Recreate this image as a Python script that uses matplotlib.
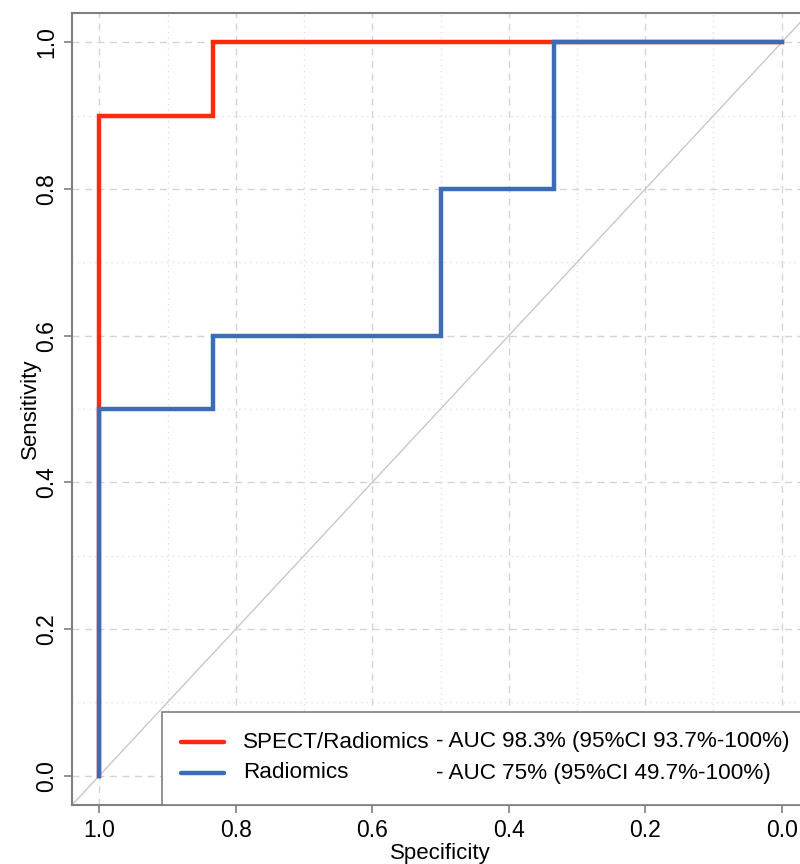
import matplotlib
matplotlib.use("Agg")
import matplotlib.pyplot as plt
from matplotlib.patches import Rectangle
from matplotlib.ticker import MultipleLocator

plt.rcParams['font.family'] = ['Liberation Sans', 'DejaVu Sans']

# ROC data (specificity, sensitivity)
spect_spec = [1.0, 1.0, 0.8333, 0.8333, 0.0]
spect_sens = [0.0, 0.9, 0.9, 1.0, 1.0]
rad_spec = [1.0, 1.0, 0.8333, 0.8333, 0.5, 0.5, 0.3333, 0.3333, 0.0]
rad_sens = [0.0, 0.5, 0.5, 0.6, 0.6, 0.8, 0.8, 1.0, 1.0]

names = ["SPECT/Radiomics", "Radiomics"]
auc_texts = ["- AUC 98.3% (95%CI 93.7%-100%)", "- AUC 75% (95%CI 49.7%-100%)"]
colors = ["#FF2A0E", "#3C6DB4"]
ticks = [0.0, 0.2, 0.4, 0.6, 0.8, 1.0]
tick_labels = ["0.0", "0.2", "0.4", "0.6", "0.8", "1.0"]

fig = plt.figure(figsize=(8, 8.64), dpi=100)
ax = fig.add_axes([72/800, 1-805/864, 737/800, 792/864])
ax.set_xlim(1.04, -0.04)
ax.set_ylim(-0.04, 1.04)

# grid
ax.set_xticks(ticks)
ax.set_yticks(ticks)
ax.xaxis.set_minor_locator(MultipleLocator(0.1))
ax.yaxis.set_minor_locator(MultipleLocator(0.1))
ax.grid(which='major', color='#d4d4d4', linestyle=(0, (5, 4)), linewidth=1.0)
ax.grid(which='minor', color='#e0e0e0', linestyle=(0, (1, 3)), linewidth=1.0)
ax.set_axisbelow(True)

# diagonal
ax.plot([1.1, -0.1], [-0.1, 1.1], color='#c8c8c8', linewidth=1.0, zorder=1)

ax.plot(spect_spec, spect_sens, color=colors[0], linewidth=3.2, zorder=3, solid_joinstyle='miter')
ax.plot(rad_spec, rad_sens, color=colors[1], linewidth=3.2, zorder=4, solid_joinstyle='miter')

ax.set_xticklabels(tick_labels, fontsize=16.5)
ax.set_yticklabels(tick_labels, fontsize=16.5, rotation=90, va='center')
ax.tick_params(which='major', direction='out', length=6, width=1.2, color='#7f7f7f', pad=4)
ax.tick_params(which='minor', length=0)
for s in ax.spines.values():
    s.set_color('#7f7f7f')
    s.set_linewidth(1.5)

ax.set_xlabel("Specificity", fontsize=16, labelpad=1)
ax.set_ylabel("Sensitivity", fontsize=16, labelpad=-4)

# legend box
lx0 = (162-72)/737
ly1 = (805-712)/792
ax.add_patch(Rectangle((lx0, 0), 1.2, ly1, transform=ax.transAxes, facecolor='white',
                       edgecolor='#7f7f7f', linewidth=1.2, zorder=5, clip_on=False))
ys = [(805-742)/792, (805-773)/792]
for i in range(2):
    ax.plot([(181-72)/737, (224-72)/737], [ys[i], ys[i]], transform=ax.transAxes,
            color=colors[i], linewidth=3.2, zorder=6, clip_on=False, solid_capstyle='round')
    ax.text((243-72)/737, ys[i], names[i], transform=ax.transAxes, fontsize=16.2,
            va='center', ha='left', zorder=6)
    ax.text((436-72)/737, ys[i], auc_texts[i], transform=ax.transAxes, fontsize=16.2,
            va='center', ha='left', zorder=6)

fig.savefig("out.png", dpi=100)
